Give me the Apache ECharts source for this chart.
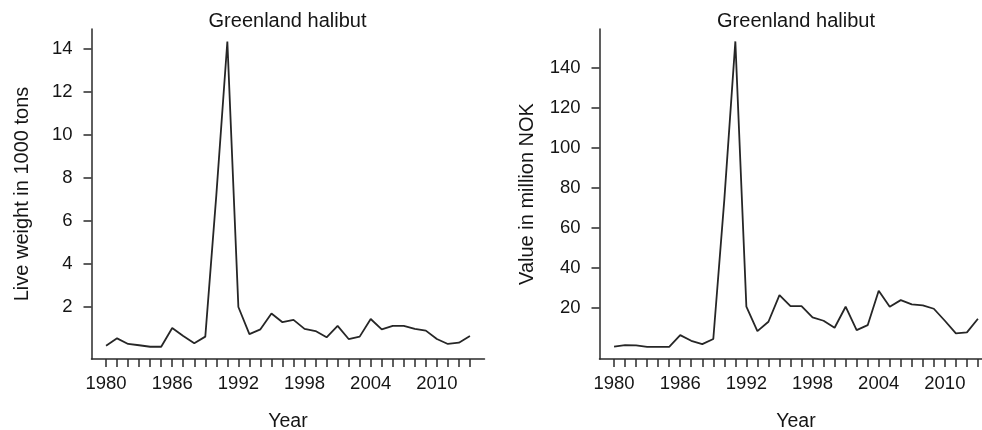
<!DOCTYPE html>
<html>
<head>
<meta charset="utf-8">
<script src="https://cdn.jsdelivr.net/npm/echarts@6/dist/echarts.min.js"></script>
<style>
html,body{margin:0;padding:0;background:#fff;}
#chart{width:982px;height:430px;}
</style>
</head>
<body>
<div id="chart"></div>
<script>
const years = [1980,1981,1982,1983,1984,1985,1986,1987,1988,1989,1990,1991,1992,1993,1994,1995,1996,1997,1998,1999,2000,2001,2002,2003,2004,2005,2006,2007,2008,2009,2010,2011,2012,2013];
const liveWeight = [0.2,0.54,0.28,0.22,0.15,0.15,1.02,0.65,0.31,0.62,7.2,14.35,2.0,0.74,0.96,1.7,1.29,1.4,0.98,0.88,0.59,1.12,0.51,0.62,1.44,0.96,1.12,1.12,0.98,0.9,0.51,0.28,0.34,0.65];
const valueNOK = [0.6,1.3,1.2,0.5,0.5,0.5,6.3,3.5,1.8,4.4,74,153,20.5,8.3,13,26.3,20.8,20.8,15.2,13.5,10,20.5,8.8,11.3,28.5,20.5,23.8,21.7,21.2,19.5,13.5,7.2,7.7,14.5];
const xTickLabels = [1980,1986,1992,1998,2004,2010];
const leftYTicks = [2,4,6,8,10,12,14];
const rightYTicks = [20,40,60,80,100,120,140];
const chartTitle = 'Greenland halibut';
const xName = 'Year';
const leftYName = 'Live weight in 1000 tons';
const rightYName = 'Value in million NOK';

const FONT = '"Liberation Sans", Arial, Helvetica, sans-serif';
const TXT = '#151515';
const AX = '#2a2a2a';

function xAxisCfg(idx) {
  return {
    type: 'value', gridIndex: idx, min: 1978.68, max: 2014.32,
    name: xName, nameLocation: 'middle', nameGap: 53,
    nameTextStyle: {fontFamily: FONT, fontSize: 19.5, color: TXT},
    splitLine: {show: false},
    axisLine: {show: true, onZero: false, lineStyle: {color: AX, width: 1.5}},
    axisTick: {show: true, length: 8, customValues: years, lineStyle: {color: AX, width: 1.5}},
    axisLabel: {customValues: xTickLabels, margin: 15, fontFamily: FONT, fontSize: 18.5, color: TXT,
      formatter: function (v) { return String(Math.round(v)); }},
  };
}
function yAxisCfg(idx, min, max, ticks, name, gap) {
  return {
    type: 'value', gridIndex: idx, min: min, max: max,
    name: name, nameLocation: 'middle', nameGap: gap,
    nameTextStyle: {fontFamily: FONT, fontSize: 20, color: TXT},
    splitLine: {show: false},
    axisLine: {show: true, onZero: false, lineStyle: {color: AX, width: 1.5}},
    axisTick: {show: true, length: 8, customValues: ticks, lineStyle: {color: AX, width: 1.5}},
    axisLabel: {customValues: ticks, margin: 19, fontFamily: FONT, fontSize: 18.5, color: TXT},
  };
}

const chart = echarts.init(document.getElementById('chart'), null, {renderer: 'canvas'});
chart.setOption({
  animation: false,
  backgroundColor: '#fff',
  title: [
    {text: chartTitle, left: 282.5, top: 6, textAlign: 'center', textStyle: {fontFamily: FONT, fontSize: 20, fontWeight: 'normal', color: TXT}},
    {text: chartTitle, left: 791, top: 6, textAlign: 'center', textStyle: {fontFamily: FONT, fontSize: 20, fontWeight: 'normal', color: TXT}}
  ],
  grid: [
    {left: 91.5, top: 29, width: 393, height: 330, containLabel: false, outerBoundsMode: 'none'},
    {left: 599.5, top: 29, width: 393, height: 330, containLabel: false, outerBoundsMode: 'none'}
  ],
  xAxis: [xAxisCfg(0), xAxisCfg(1)],
  yAxis: [
    yAxisCfg(0, -0.42, 14.93, leftYTicks, leftYName, 59),
    yAxisCfg(1, -5.6, 159.2, rightYTicks, rightYName, 62)
  ],
  series: [
    {type: 'line', xAxisIndex: 0, yAxisIndex: 0, data: years.map((y, i) => [y, liveWeight[i]]), showSymbol: false, lineStyle: {color: '#262626', width: 1.8}},
    {type: 'line', xAxisIndex: 1, yAxisIndex: 1, data: years.map((y, i) => [y, valueNOK[i]]), showSymbol: false, lineStyle: {color: '#262626', width: 1.8}}
  ]
});
</script>
</body>
</html>
